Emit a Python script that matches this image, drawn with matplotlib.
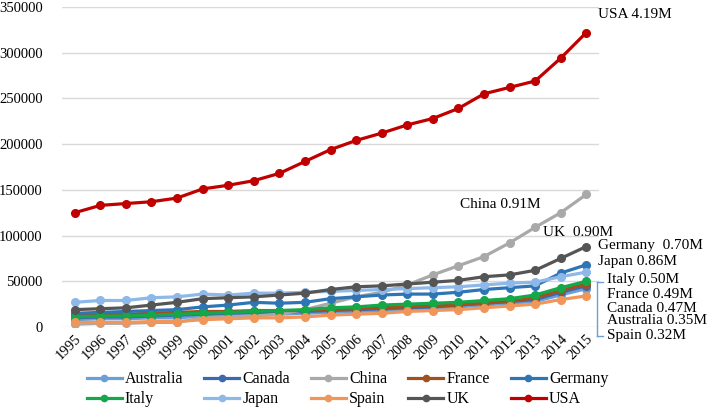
import matplotlib
matplotlib.use("Agg")
import matplotlib.pyplot as plt
from matplotlib.lines import Line2D

years = [str(y) for y in range(1995, 2016)]

australia = [8000, 9000, 9000, 10000, 10000, 12000, 12000, 13000, 14000, 15000, 16000,
             17000, 18000, 19000, 20000, 22000, 24000, 26000, 28000, 35000, 42000]
canada = [10000, 11000, 11000, 12000, 13000, 14000, 15000, 16000, 16000, 17000, 18000,
          19000, 20000, 21000, 22000, 24000, 26000, 28000, 30000, 38000, 45000]
china = [3000, 4000, 4000, 5000, 5000, 10000, 11000, 12000, 14000, 19000, 26000,
         33000, 38000, 46000, 57000, 67000, 77000, 92000, 109000, 125000, 145000]
france = [13000, 14000, 14000, 15000, 16000, 17000, 17000, 18000, 18000, 18000, 19000,
          20000, 21000, 22000, 23000, 24000, 26000, 28000, 32000, 40000, 47000]
germany = [15000, 16000, 17000, 18000, 19000, 22000, 24000, 27000, 26000, 27000, 31000,
           33000, 35000, 36000, 36000, 38000, 41000, 43000, 45000, 59000, 68000]
italy = [11000, 12000, 12000, 13000, 14000, 15000, 16000, 17000, 18000, 19000, 21000,
         22000, 24000, 25000, 26000, 27000, 29000, 31000, 35000, 43000, 50000]
japan = [27000, 29000, 29000, 32000, 33000, 36000, 35000, 37000, 37000, 38000, 39000,
         40000, 41000, 42000, 43000, 44000, 46000, 48000, 49000, 55000, 60000]
spain = [5000, 5000, 5000, 6000, 6000, 8000, 9000, 10000, 10000, 11000, 13000,
         14000, 15000, 17000, 18000, 19000, 21000, 23000, 25000, 30000, 34000]
uk = [19000, 20000, 21000, 24000, 27000, 31000, 32000, 33000, 35000, 37000, 41000,
      44000, 45000, 47000, 49000, 51000, 55000, 57000, 62000, 75000, 88000]
usa = [125000, 133000, 135000, 137000, 141000, 151000, 155000, 160000, 168000, 181000, 194000,
       204000, 212000, 221000, 228000, 239000, 255000, 262000, 269000, 294000, 322000]

names = ["Australia", "Canada", "China", "France", "Germany",
         "Italy", "Japan", "Spain", "UK", "USA"]
series = [australia, canada, china, france, germany, italy, japan, spain, uk, usa]
colors = ["#6A9FD8", "#3C68B0", "#A9A9A9", "#A0511E", "#2E75B6",
          "#14A84A", "#8DB8E8", "#F0965A", "#555555", "#C00000"]

bracket_labels = ["Italy 0.50M", "France 0.49M", "Canada 0.47M",
                  "Australia 0.35M", "Spain 0.32M"]

plt.rcParams['font.family'] = ['Liberation Serif', 'DejaVu Serif']

fig = plt.figure(figsize=(7.09, 4.08), dpi=100)
ax = fig.add_axes([0.0874, 0.1985, 0.7576, 0.7845])

x = list(range(len(years)))
order = [2, 7, 0, 1, 3, 5, 6, 4, 8, 9]
for i in order:
    ax.plot(x, series[i], color=colors[i], lw=2.3, marker='o', ms=5.5,
            solid_capstyle='round', zorder=3 + i * 0.1)

ax.set_xlim(-0.5, len(years) - 0.5)
ax.set_ylim(0, 350000)
ax.set_yticks(range(0, 350001, 50000))
ax.set_yticklabels([str(v) for v in range(0, 350001, 50000)], fontsize=10.5)
ax.set_xticks(x)
ax.set_xticklabels(years, rotation=45, ha='right', rotation_mode='anchor', fontsize=10.5)
ax.tick_params(axis='both', length=0, pad=4)
ax.tick_params(axis='y', pad=14)
ax.grid(axis='y', color='#D9D9D9', lw=1)
ax.set_axisbelow(True)
for s in ax.spines.values():
    s.set_visible(False)

def px(xp, yp):
    return xp / 709, 1 - yp / 408

fs = 11
fig.text(*px(598, 15), "USA 4.19M", fontsize=fs, va='center')
fig.text(*px(460, 205), "China 0.91M", fontsize=fs, va='center')
fig.text(*px(543, 232), "UK  0.90M", fontsize=fs, va='center')
fig.text(*px(598, 246), "Germany  0.70M", fontsize=fs, va='center')
fig.text(*px(598, 261), "Japan 0.86M", fontsize=fs, va='center')
ys = [280, 294, 308, 321, 335]
for lab, yy in zip(bracket_labels, ys):
    fig.text(*px(607, yy), lab, fontsize=fs, va='center')

bc = "#6A9FD8"
x0, x1 = 597 / 709, 603 / 709
yt, yb = 1 - 282 / 408, 1 - 336 / 408
fig.add_artist(Line2D([x0, x0], [yt, yb], color=bc, lw=1, transform=fig.transFigure))
fig.add_artist(Line2D([x0, x1], [yt, yt], color=bc, lw=1, transform=fig.transFigure))
fig.add_artist(Line2D([x0, x1], [yb, yb], color=bc, lw=1, transform=fig.transFigure))

handles = [Line2D([], [], color=c, lw=2.3, marker='o', ms=4.5) for c in colors]
leg_order = [0, 5, 1, 6, 2, 7, 3, 8, 4, 9]
fig.legend([handles[i] for i in leg_order], [names[i] for i in leg_order],
           loc='center', bbox_to_anchor=(0.49, 0.046), ncol=5,
           frameon=False, fontsize=11.5, handlelength=2.2, handletextpad=0.2,
           columnspacing=1.3, labelspacing=0.25, borderaxespad=0)

fig.savefig("out.png", dpi=100)
